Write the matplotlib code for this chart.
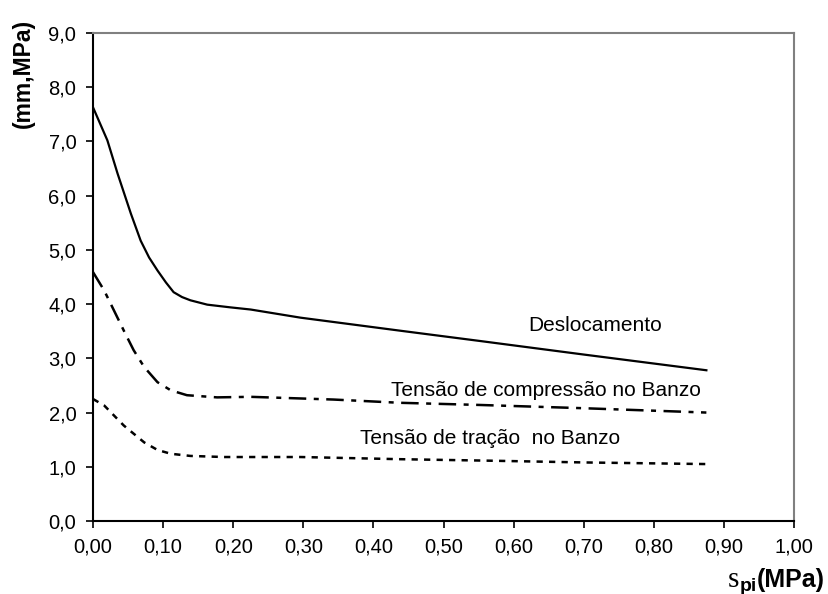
import numpy as np
import matplotlib.pyplot as plt
from matplotlib.ticker import MultipleLocator, FuncFormatter

plt.rcParams['font.family'] = ['Liberation Sans', 'DejaVu Sans']

# values
x_desl = [0.0, 0.0205, 0.035, 0.054, 0.068, 0.080, 0.092, 0.104, 0.115, 0.127,
          0.139, 0.163, 0.196, 0.225, 0.296, 0.367, 0.438, 0.552, 0.70, 0.875]
y_desl = [7.63, 7.02, 6.41, 5.67, 5.17, 4.86, 4.62, 4.40, 4.22, 4.13,
          4.07, 3.99, 3.94, 3.90, 3.75, 3.63, 3.51, 3.32, 3.07, 2.78]

x_comp = [0.0, 0.016, 0.030, 0.044, 0.058, 0.073, 0.092, 0.111, 0.134, 0.177,
          0.225, 0.343, 0.438, 0.552, 0.70, 0.875]
y_comp = [4.59, 4.25, 3.88, 3.51, 3.15, 2.84, 2.56, 2.41, 2.32, 2.28,
          2.29, 2.24, 2.18, 2.14, 2.08, 2.00]

x_trac = [0.0, 0.016, 0.044, 0.073, 0.092, 0.111, 0.139, 0.187, 0.296, 0.438,
          0.576, 0.70, 0.875]
y_trac = [2.25, 2.13, 1.76, 1.45, 1.31, 1.24, 1.20, 1.18, 1.18, 1.14,
          1.11, 1.08, 1.05]

rotulos = ["Deslocamento", "Tensão de compressão no Banzo", "Tensão de tração  no Banzo"]
pos_rot = [(0.717, 3.60), (0.646, 2.40), (0.567, 1.53)]

fig = plt.figure(figsize=(8.29, 5.94), dpi=100)
ax = fig.add_axes([93 / 829, 1 - 521 / 594, 701 / 829, 488 / 594])

ax.plot(x_desl, y_desl, color='black', lw=1.6)
ax.plot(x_comp, y_comp, color='black', lw=1.8, dashes=(7, 3, 2, 3))
ax.plot(x_trac, y_trac, color='black', lw=1.8, dashes=(2.5, 2.5))

for txt, (tx, ty) in zip(rotulos, pos_rot):
    ax.text(tx, ty, txt, ha='center', va='center', fontsize=15)

ax.set_xlim(0, 1.0)
ax.set_ylim(0, 9.0)
ax.xaxis.set_major_locator(MultipleLocator(0.1))
ax.yaxis.set_major_locator(MultipleLocator(1.0))
ax.xaxis.set_major_formatter(FuncFormatter(lambda v, p: f"{v:.2f}".replace('.', ',')))
ax.yaxis.set_major_formatter(FuncFormatter(lambda v, p: f"{v:.1f}".replace('.', ',')))
ax.tick_params(direction='out', length=5, width=1.2, labelsize=14.5, pad=7)

for s in ['left', 'bottom']:
    ax.spines[s].set_color('black')
    ax.spines[s].set_linewidth(1.5)
for s in ['top', 'right']:
    ax.spines[s].set_color('#808080')
    ax.spines[s].set_linewidth(1.5)

fig.text(23 / 829, 1 - 73 / 594, "(mm,MPa)", rotation=90, ha='center', va='center',
         fontsize=16.5, fontweight='bold')

# x label: s (serif) + pi subscript + (MPa)
fig.canvas.draw()
r = fig.canvas.get_renderer()
x0 = 728 / 829
yb = 1 - 587 / 594
t1 = fig.text(x0, yb, "s", fontsize=21, family='Liberation Serif', va='baseline')
bb = t1.get_window_extent(renderer=r).transformed(fig.transFigure.inverted())
t2 = fig.text(bb.x1, yb - 0.006, "pi", fontsize=14, fontweight='bold', va='baseline')
bb2 = t2.get_window_extent(renderer=r).transformed(fig.transFigure.inverted())
fig.text(bb2.x1, yb, "(MPa)", fontsize=18, fontweight='bold', va='baseline')

fig.savefig('out.png', dpi=100)
